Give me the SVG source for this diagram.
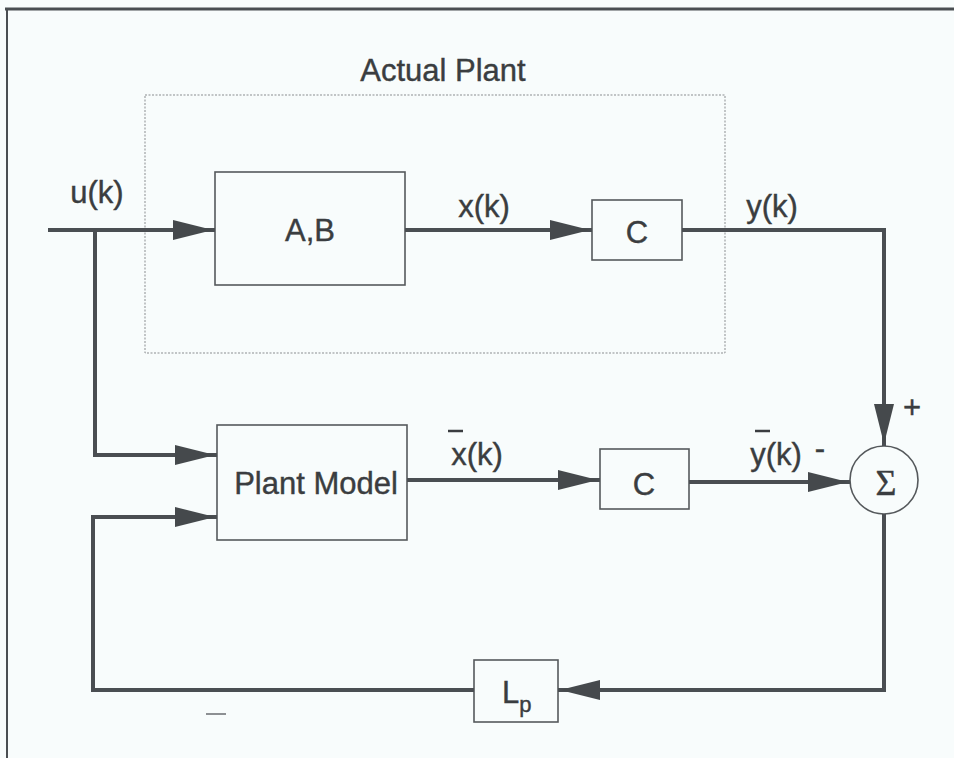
<svg xmlns="http://www.w3.org/2000/svg" width="954" height="758" viewBox="0 0 954 758">
<style>
.bg{fill:#f8fcfc}
.frame{stroke:#4a4e52;fill:none}
.blk{fill:none;stroke:#55595c;stroke-width:1.6}
.dot{fill:none;stroke:#8a8d90;stroke-width:1;stroke-dasharray:2 1.5}
.wire{fill:none;stroke:#4a4e52;stroke-width:4;stroke-linecap:square}
.lbl{font-family:"Liberation Sans",Arial,sans-serif;font-size:31px;fill:#3a3d40;stroke:#3a3d40;stroke-width:0.4}
.bar{stroke:#3a3d40;stroke-width:2.5}
.ah{fill:#45494c}
</style>
<defs>
<marker id="arr" viewBox="0 0 40 20" refX="40" refY="10" markerWidth="40" markerHeight="20" markerUnits="userSpaceOnUse" orient="auto">
<path class="ah" d="M0,0 L40,10 L0,20 z"/>
</marker>
</defs>
<rect class="bg" x="0" y="0" width="954" height="758"/>
<line class="frame" x1="5" y1="9" x2="954" y2="9" stroke-width="3"/>
<line class="frame" x1="7" y1="8" x2="7" y2="758" stroke-width="2"/>

<g id="actual-plant">
<rect class="dot" x="145" y="95" width="580" height="258"/>
<text class="lbl" x="443" y="81" text-anchor="middle" font-size="32">Actual Plant</text>
</g>

<g id="AB">
<rect class="blk" x="215" y="172" width="190" height="113"/>
<text class="lbl" x="310" y="241" text-anchor="middle">A,B</text>
</g>

<g id="C1">
<rect class="blk" x="592" y="200" width="90" height="60"/>
<text class="lbl" x="637" y="243" text-anchor="middle">C</text>
</g>

<g id="plant-model">
<rect class="blk" x="217" y="425" width="190" height="115"/>
<text class="lbl" x="316" y="494" text-anchor="middle">Plant Model</text>
</g>

<g id="C2">
<rect class="blk" x="600" y="449" width="89" height="60"/>
<text class="lbl" x="644" y="495" text-anchor="middle">C</text>
</g>

<g id="sum">
<circle cx="884" cy="480" r="34" fill="none" stroke="#55595c" stroke-width="1.6"/>
<text x="886" y="495" text-anchor="middle" style="font-family:'Liberation Serif','DejaVu Serif',serif;font-size:36px;fill:#3a3d40;stroke:#3a3d40;stroke-width:0.4">Σ</text>
</g>

<g id="Lp">
<rect class="blk" x="474" y="660" width="84" height="62"/>
<text class="lbl" x="502" y="703">L<tspan font-size="22" dy="9">p</tspan></text>
</g>

<g id="connectors">
<line class="wire" x1="50" y1="230" x2="213" y2="230" marker-end="url(#arr)"/>
<line class="wire" x1="407" y1="230" x2="590" y2="230" marker-end="url(#arr)"/>
<polyline class="wire" points="684,230 884,230 884,444" marker-end="url(#arr)"/>
<polyline class="wire" points="95,232 95,455 215,455" marker-end="url(#arr)"/>
<line class="wire" x1="409" y1="480" x2="598" y2="480" marker-end="url(#arr)"/>
<line class="wire" x1="691" y1="482" x2="848" y2="482" marker-end="url(#arr)"/>
<polyline class="wire" points="884,516 884,690 560,690" marker-end="url(#arr)"/>
<polyline class="wire" points="472,690 93,690 93,517 215,517" marker-end="url(#arr)"/>
</g>

<g id="labels">
<text class="lbl" x="97" y="203" text-anchor="middle">u(k)</text>
<text class="lbl" x="484" y="217" text-anchor="middle">x(k)</text>
<text class="lbl" x="772" y="217" text-anchor="middle">y(k)</text>
<text class="lbl" x="477" y="465" text-anchor="middle">x(k)</text>
<line class="bar" x1="448" y1="431" x2="463" y2="431"/>
<text class="lbl" x="776" y="465" text-anchor="middle">y(k)</text>
<line class="bar" x1="755" y1="431" x2="770" y2="431"/>
<text class="lbl" x="820" y="459" text-anchor="middle">-</text>
<text class="lbl" x="912" y="418" text-anchor="middle" font-size="26">+</text>
<line x1="206" y1="714" x2="226" y2="714" stroke="#6a6d70" stroke-width="1.5"/>
</g>
</svg>
